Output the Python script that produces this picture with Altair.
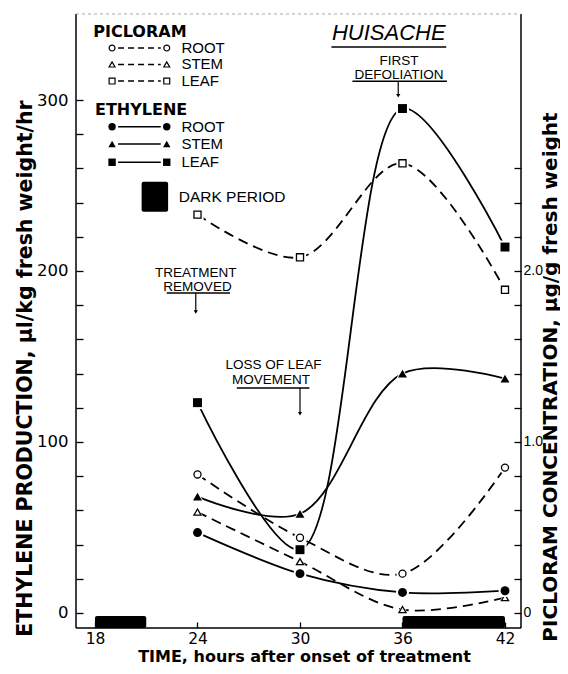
import altair as alt
import pandas as pd

# ---------------- data ----------------
hours = [24, 30, 36, 42]
tissues = ["ROOT", "STEM", "LEAF"]
shapes = ["circle", "triangle-up", "square"]

# ethylene production, ul/kg fresh weight/hr (left axis)
eth_root = [47, 23, 12, 13]
eth_stem = [68, 58, 140, 137]
eth_leaf = [123, 37, 295, 214]

# picloram concentration, ug/g fresh weight (right axis)
pic_root = [0.81, 0.44, 0.23, 0.85]
pic_stem = [0.59, 0.30, 0.02, 0.09]
pic_leaf = [2.33, 2.08, 2.63, 1.89]

# dark periods (hours)
dark_start = [18, 36]
dark_end = [21, 42]

# axis ticks
x_tick_values = [18, 24, 30, 36, 42]
left_tick_values = [0, 20, 40, 60, 80, 100, 120, 140, 160, 180, 200,
                    220, 240, 260, 280, 300]
right_tick_values = [0, 0.2, 0.4, 0.6, 0.8, 1.0, 1.2, 1.4, 1.6, 1.8, 2.0,
                     2.2, 2.4, 2.6]

# annotations (hour, ethylene-unit positions)
ann_text = ["TREATMENT", "REMOVED", "LOSS OF LEAF", "MOVEMENT", "FIRST", "DEFOLIATION"]
ann_x = [23.9, 24.0, 28.45, 28.3, 35.8, 35.8]
ann_y = [198.8, 190.6, 145.0, 136.3, 323.0, 314.6]
ul_x1 = [22.2, 26.3, 33.07, 31.84]
ul_x2 = [25.9, 30.55, 38.6, 38.56]
ul_y = [187.1, 131.6, 311.0, 331.0]
arrow_x = [23.9, 30.0, 35.75]
arrow_top = [187.1, 131.6, 311.0]
arrow_bottom = [176.0, 116.5, 302.5]
title_text = ["HUISACHE"]
title_x = [35.2]
title_y = [339.0]

# legend positions
leg_heads = ["PICLORAM", "ETHYLENE"]
leg_head_x = [17.9, 18.0]
leg_head_y = [340.0, 294.2]
leg_pic_y = [330.4, 320.8, 311.1]
leg_eth_y = [284.4, 274.3, 263.6]
leg_sym_x = [19.0, 22.2]
leg_line_x = [19.35, 21.85]
leg_text_x = 23.06
dark_leg_x = [20.73, 22.28]
dark_leg_y = [234.7, 252.2]
dark_leg_text = ["DARK PERIOD"]
dark_leg_text_x = [22.9]
dark_leg_text_y = [243.5]

# ---------------- scales ----------------
X_DOMAIN = [16.888, 42.937]
Y_DOMAIN = [-8.8, 350.3]
R_DOMAIN = [-0.088, 3.503]
FONT = "Liberation Sans"
NUMFONT = "DejaVu Sans"

x_axis = alt.Axis(
    values=x_tick_values, format="d", tickSize=6, offset=-6, domain=False, grid=False,
    labelPadding=3, labelFont=NUMFONT, labelFontSize=15.5, labelColor="black",
    tickColor="black", tickWidth=1.3,
    title="TIME, hours after onset of treatment", titleFont=NUMFONT, titleFontSize=16,
    titleFontWeight="bold", titleColor="black", titleX=228, titleY=34.5,
    titleAlign="center", titleBaseline="middle",
)
left_axis = alt.Axis(
    orient="left", values=left_tick_values, format="d",
    labelExpr="datum.value % 100 == 0 ? datum.label : ''",
    tickSize=7, offset=-7, domain=False, grid=False, labelPadding=8,
    labelFont=NUMFONT, labelFontSize=16.5, labelColor="black",
    tickColor="black", tickWidth=1.3,
    title="ETHYLENE PRODUCTION, \u03bcl/kg fresh weight/hr", titleFont=NUMFONT,
    titleFontSize=20.5, titleFontWeight="bold", titleColor="black",
    titleAngle=270, titleX=-58, titleY=354, titleAlign="center", titleBaseline="middle",
)
right_axis = alt.Axis(
    orient="right", values=right_tick_values,
    labelExpr="datum.value == 0 ? '0' : ((datum.value == 1 || datum.value == 2) ? format(datum.value, '.1f') : '')",
    tickSize=7, offset=-7, domain=False, grid=False, labelPadding=2,
    labelFont=FONT, labelFontSize=14, labelColor="black",
    tickColor="black", tickWidth=1.3,
    title="PICLORAM CONCENTRATION, \u03bcg/g fresh weight", titleFont=NUMFONT,
    titleFontSize=20, titleFontWeight="bold", titleColor="black",
    titleAngle=270, titleX=42, titleY=362.5, titleAlign="center", titleBaseline="alphabetic",
)


def xs(field):
    return alt.X(f"{field}:Q", scale=alt.Scale(domain=X_DOMAIN, nice=False, zero=False), axis=x_axis)


def yl(field, axis=None):
    return alt.Y(f"{field}:Q", scale=alt.Scale(domain=Y_DOMAIN, nice=False, zero=False), axis=axis)


def yr(field, axis=None):
    return alt.Y(f"{field}:Q", scale=alt.Scale(domain=R_DOMAIN, nice=False, zero=False), axis=axis)


shape_enc = alt.Shape("tissue:N", scale=alt.Scale(domain=tissues, range=shapes), legend=None)

eth = pd.DataFrame({
    "hour": hours * 3,
    "tissue": [t for t in tissues for _ in hours],
    "value": eth_root + eth_stem + eth_leaf,
})
pic = pd.DataFrame({
    "hour": hours * 3,
    "tissue": [t for t in tissues for _ in hours],
    "value": pic_root + pic_stem + pic_leaf,
})

# ---------- group 1: left scale with axis ----------
frame_df = pd.DataFrame({
    "x1": [X_DOMAIN[0], X_DOMAIN[1], X_DOMAIN[0]],
    "x2": [X_DOMAIN[0], X_DOMAIN[1], X_DOMAIN[1]],
    "y1": [Y_DOMAIN[0], Y_DOMAIN[0], Y_DOMAIN[0]],
    "y2": [Y_DOMAIN[1], Y_DOMAIN[1], Y_DOMAIN[0]],
})
frame = alt.Chart(frame_df).mark_rule(color="black", strokeWidth=1.5).encode(
    x=xs("x1"), x2="x2:Q", y=yl("y1", left_axis), y2="y2:Q")
top_df = pd.DataFrame({"x1": [X_DOMAIN[0]], "x2": [X_DOMAIN[1]], "y1": [Y_DOMAIN[1]]})
top = alt.Chart(top_df).mark_rule(color="#aaaaaa", strokeWidth=1, strokeDash=[3, 3]).encode(
    x=xs("x1"), x2="x2:Q", y=yl("y1", left_axis))
dark_df = pd.DataFrame({"start": dark_start, "end": dark_end,
                        "top": [-1.8] * len(dark_start), "bottom": [Y_DOMAIN[0]] * len(dark_start)})
dark = alt.Chart(dark_df).mark_rect(color="black", cornerRadius=2).encode(
    x=xs("start"), x2="end:Q", y=yl("top", left_axis), y2="bottom:Q")
eth_lines = alt.Chart(eth).mark_line(interpolate="catmull-rom", color="black", strokeWidth=1.8).encode(
    x=xs("hour"), y=yl("value", left_axis), detail="tissue:N")
group1 = alt.layer(frame, top, dark, eth_lines)

# ---------- group 2: right scale with axis ----------
pic_lines = alt.Chart(pic).mark_line(interpolate="catmull-rom", color="black", strokeWidth=1.8,
                                     strokeDash=[10, 6]).encode(
    x=xs("hour"), y=yr("value", right_axis), detail="tissue:N")
pic_halo = alt.Chart(pic).mark_point(filled=True, color="white", opacity=1, size=150).encode(
    x=xs("hour"), y=yr("value", right_axis), shape=shape_enc)
pic_pts = alt.Chart(pic).mark_point(filled=True, fill="white", stroke="black", strokeWidth=1.3,
                                    opacity=1, size=50).encode(
    x=xs("hour"), y=yr("value", right_axis), shape=shape_enc)
group2 = alt.layer(pic_lines, pic_halo, pic_pts)

# ---------- group 3: left scale, no axis ----------
eth_halo = alt.Chart(eth).mark_point(filled=True, color="white", opacity=1, size=170).encode(
    x=xs("hour"), y=yl("value"), shape=shape_enc)
eth_pts = alt.Chart(eth).mark_point(filled=True, color="black", opacity=1, size=80).encode(
    x=xs("hour"), y=yl("value"), shape=shape_enc)

ann_df = pd.DataFrame({"hour": ann_x, "value": ann_y, "text": ann_text})
ann = alt.Chart(ann_df).mark_text(font=FONT, fontSize=13.5, color="black", align="center",
                                  baseline="middle").encode(
    x=xs("hour"), y=yl("value"), text="text:N")
ul_df = pd.DataFrame({"x1": ul_x1, "x2": ul_x2, "y": ul_y})
ul = alt.Chart(ul_df).mark_rule(color="black", strokeWidth=1.4).encode(
    x=xs("x1"), x2="x2:Q", y=yl("y"))
arr_df = pd.DataFrame({"hour": arrow_x, "top": arrow_top, "bottom": arrow_bottom})
arr_line = alt.Chart(arr_df).mark_rule(color="black", strokeWidth=1.2).encode(
    x=xs("hour"), y=yl("top"), y2="bottom:Q")
arr_head = alt.Chart(arr_df).mark_point(shape="triangle-down", filled=True, color="black",
                                        opacity=1, size=18).encode(
    x=xs("hour"), y=yl("bottom"))
title_df = pd.DataFrame({"hour": title_x, "value": title_y, "text": title_text})
title = alt.Chart(title_df).mark_text(font=FONT, fontSize=22, fontStyle="italic", color="black",
                                      align="center", baseline="middle").encode(
    x=xs("hour"), y=yl("value"), text="text:N")

head_df = pd.DataFrame({"hour": leg_head_x, "value": leg_head_y, "text": leg_heads})
heads = alt.Chart(head_df).mark_text(font=NUMFONT, fontSize=16, fontWeight="bold", color="black",
                                     align="left", baseline="middle").encode(
    x=xs("hour"), y=yl("value"), text="text:N")
rows_df = pd.DataFrame({"hour": [leg_text_x] * 6, "value": leg_pic_y + leg_eth_y,
                        "text": tissues + tissues})
rows = alt.Chart(rows_df).mark_text(font=FONT, fontSize=15, color="black",
                                    align="left", baseline="middle").encode(
    x=xs("hour"), y=yl("value"), text="text:N")
lp_sym = pd.DataFrame({"hour": leg_sym_x * 3,
                       "value": [v for v in leg_pic_y for _ in leg_sym_x],
                       "tissue": [t for t in tissues for _ in leg_sym_x]})
le_sym = pd.DataFrame({"hour": leg_sym_x * 3,
                       "value": [v for v in leg_eth_y for _ in leg_sym_x],
                       "tissue": [t for t in tissues for _ in leg_sym_x]})
lp_line_df = pd.DataFrame({"x1": [leg_line_x[0]] * 3, "x2": [leg_line_x[1]] * 3, "y": leg_pic_y})
le_line_df = pd.DataFrame({"x1": [leg_line_x[0]] * 3, "x2": [leg_line_x[1]] * 3, "y": leg_eth_y})
lp_line = alt.Chart(lp_line_df).mark_rule(color="black", strokeWidth=1.6, strokeDash=[6, 4]).encode(
    x=xs("x1"), x2="x2:Q", y=yl("y"))
le_line = alt.Chart(le_line_df).mark_rule(color="black", strokeWidth=1.6).encode(
    x=xs("x1"), x2="x2:Q", y=yl("y"))
lp_pts = alt.Chart(lp_sym).mark_point(filled=True, fill="white", stroke="black", strokeWidth=1.2,
                                      opacity=1, size=35).encode(
    x=xs("hour"), y=yl("value"), shape=shape_enc)
le_pts = alt.Chart(le_sym).mark_point(filled=True, color="black", opacity=1, size=55).encode(
    x=xs("hour"), y=yl("value"), shape=shape_enc)
dl_df = pd.DataFrame({"x1": [dark_leg_x[0]], "x2": [dark_leg_x[1]],
                      "y1": [dark_leg_y[0]], "y2": [dark_leg_y[1]]})
dl_rect = alt.Chart(dl_df).mark_rect(color="black", cornerRadius=2).encode(
    x=xs("x1"), x2="x2:Q", y=yl("y1"), y2="y2:Q")
dl_text_df = pd.DataFrame({"hour": dark_leg_text_x, "value": dark_leg_text_y, "text": dark_leg_text})
dl_text = alt.Chart(dl_text_df).mark_text(font=FONT, fontSize=15.5, color="black",
                                          align="left", baseline="middle").encode(
    x=xs("hour"), y=yl("value"), text="text:N")

group3 = alt.layer(eth_halo, eth_pts, ann, ul, arr_line, arr_head, title,
                   heads, rows, lp_line, le_line, lp_pts, le_pts, dl_rect, dl_text)

chart = alt.layer(group1, group2, group3).resolve_scale(y="independent").properties(
    width=445, height=614,
    autosize=alt.AutoSizeParams(type="none"),
    padding={"left": 68, "top": 6, "right": 39, "bottom": 38},
    background="white",
).configure_view(stroke=None)

chart.save("out.html", embed_options={"renderer": "svg", "actions": False})
